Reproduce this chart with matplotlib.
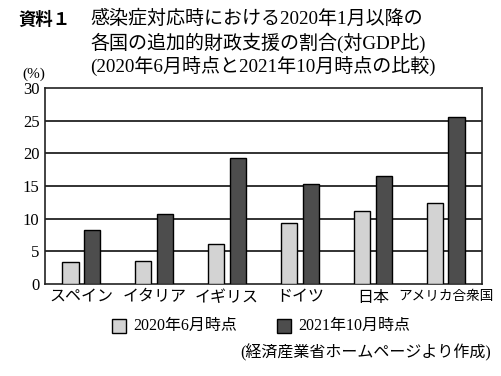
import matplotlib
matplotlib.use("Agg")
import matplotlib.pyplot as plt
import numpy as np
from matplotlib.patches import Rectangle

plt.rcParams['font.family'] = ['Liberation Serif', 'Noto Sans CJK JP', 'DejaVu Sans']

countries = ["スペイン", "イタリア", "イギリス", "ドイツ", "日本", "アメリカ合衆国"]
jun2020 = [3.3, 3.5, 6.1, 9.3, 11.2, 12.4]
oct2021 = [8.2, 10.7, 19.3, 15.3, 16.5, 25.5]
series_labels = ["2020年6月時点", "2021年10月時点"]
yticks = [0, 5, 10, 15, 20, 25, 30]

W, H = 502, 376
fig = plt.figure(figsize=(W/100, H/100), dpi=100)
ax = fig.add_axes([45/W, 1-284/H, 437/W, 196/H])

x = np.arange(len(countries))
bw = 0.22
off = 0.15
light = '#d3d3d3'
dark = '#4d4d4d'
ax.bar(x-off, jun2020, bw, color=light, edgecolor='black', linewidth=1.0, zorder=3)
ax.bar(x+off, oct2021, bw, color=dark, edgecolor='black', linewidth=1.0, zorder=3)

ax.set_xlim(-0.5, 5.5)
ax.set_ylim(0, 30)
ax.set_yticks(yticks)
ax.set_yticklabels([str(v) for v in yticks], fontsize=12)
ax.tick_params(axis='y', length=0, pad=4)
ax.tick_params(axis='x', length=0, pad=4)
ax.set_xticks(x)
ax.set_xticklabels(countries, fontsize=11.5)
ax.get_xticklabels()[-1].set_fontsize(9.8)
for v in yticks[1:-1]:
    ax.axhline(v, color='#222222', linewidth=1.3, zorder=1)
for s in ax.spines.values():
    s.set_linewidth(1.2)
    s.set_color('#222222')

# Title
fig.text(18/W, 1-20/H, "資料１", fontsize=12.5, fontweight='bold', va='center', ha='left')
tl = ["感染症対応時における2020年1月以降の",
      "各国の追加的財政支援の割合(対GDP比)",
      "(2020年6月時点と2021年10月時点の比較)"]
for i, t in enumerate(tl):
    fig.text(90/W, 1-(19+24*i)/H, t, fontsize=13.7, va='center', ha='left')

fig.text(22/W, 1-74/H, "(%)", fontsize=11, va='center', ha='left')

# Legend
for (sx, tx, col, lab) in [(112, 133, light, series_labels[0]), (277, 298, dark, series_labels[1])]:
    fig.patches.append(Rectangle((sx/W, 1-333/H), 14/W, 14/H, transform=fig.transFigure,
                                 facecolor=col, edgecolor='black', linewidth=1.0))
    fig.text(tx/W, 1-326/H, lab, fontsize=11.5, va='center', ha='left')

fig.text(491/W, 1-353/H, "(経済産業省ホームページより作成)", fontsize=11.5, va='center', ha='right')

fig.savefig("out.png", dpi=100, facecolor='white')
